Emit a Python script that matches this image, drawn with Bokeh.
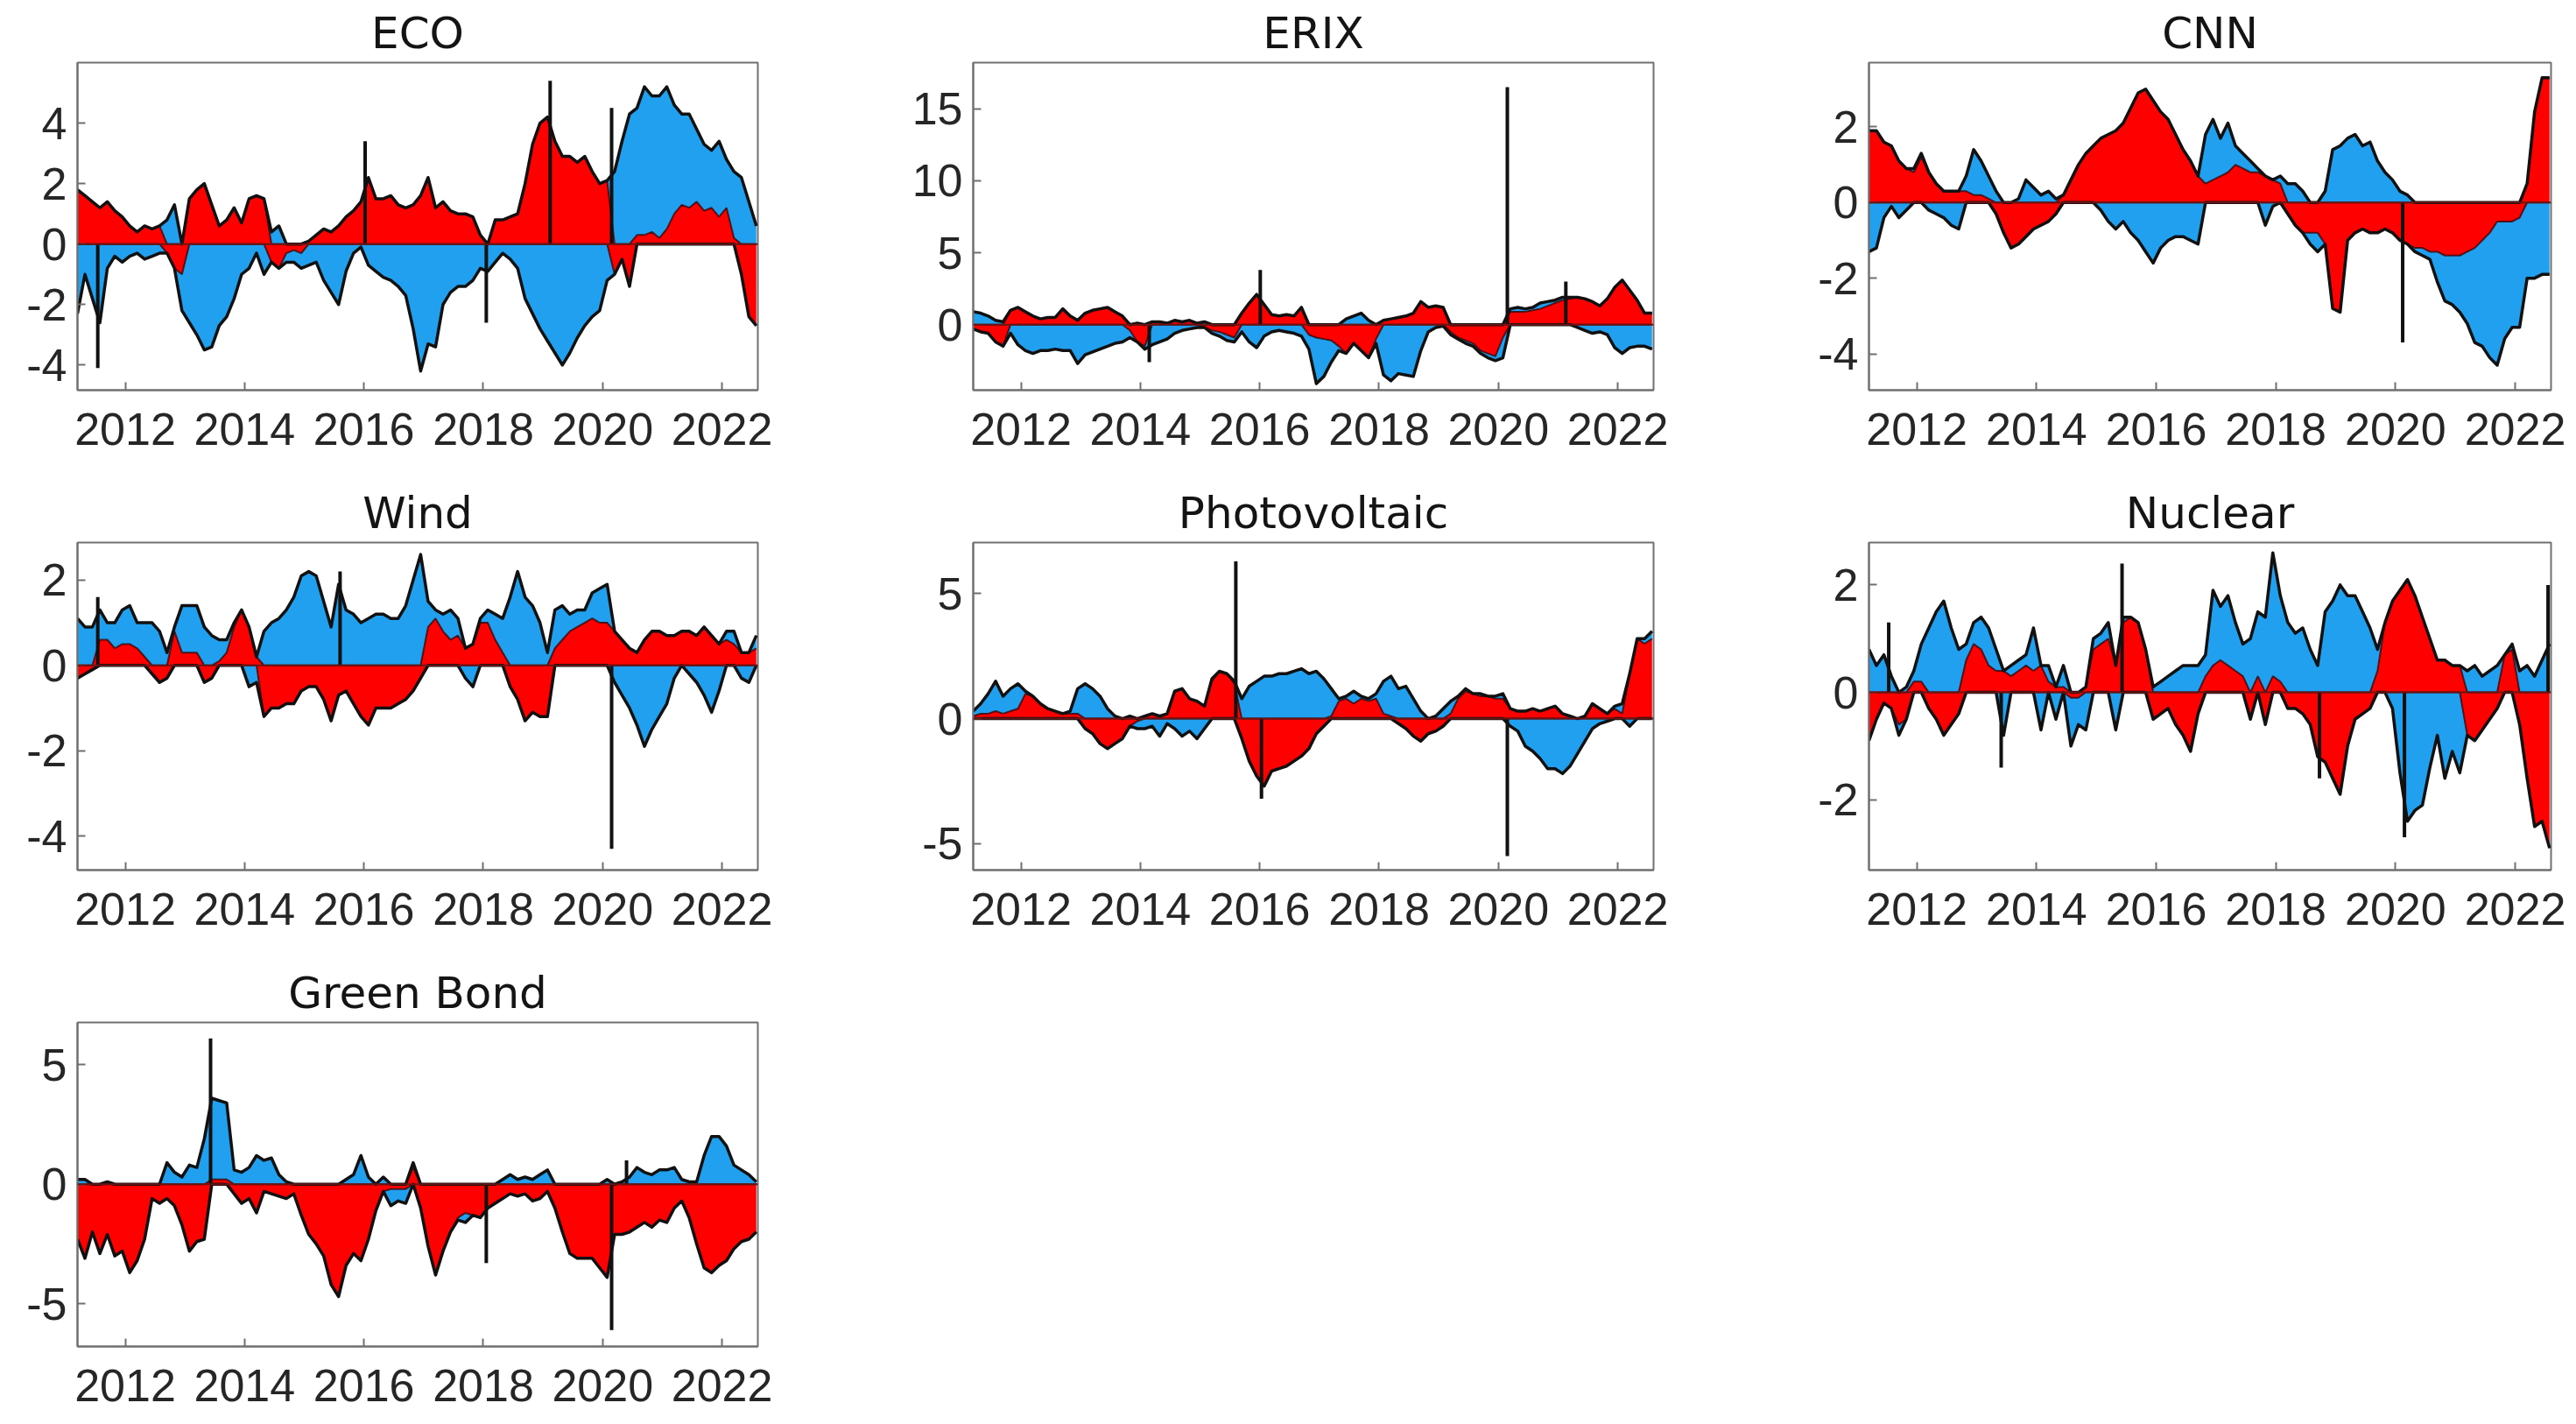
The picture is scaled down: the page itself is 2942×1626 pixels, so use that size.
import numpy as np
from bokeh.plotting import figure
from bokeh.models import Range1d, FixedTicker, PrintfTickFormatter, Span
from bokeh.layouts import column, row
from bokeh.embed import file_html
from bokeh.resources import INLINE

# ---------------- data ----------------
START = 2011.2
STEP = 0.125
N = 92
dates = START + STEP * np.arange(N)
x_ticks = [2012, 2014, 2016, 2018, 2020, 2022]

eco_red = [1.8, 1.6, 1.4, 1.2, 1.4, 1.1, 0.9, 0.6, 0.4, 0.6,
           0.5, 0.6, -0.3, -0.8, -1.0, 1.5, 1.8, 2.0, 1.3, 0.6,
           0.8, 1.2, 0.7, 1.5, 1.6, 1.5, -0.6, -0.8, -0.3, -0.2,
           -0.3, 0.1, 0.3, 0.5, 0.4, 0.6, 0.9, 1.1, 1.4, 2.2,
           1.5, 1.5, 1.6, 1.3, 1.2, 1.3, 1.6, 2.2, 1.2, 1.4,
           1.1, 1.0, 1.0, 0.9, 0.3, 0.0, 0.8, 0.8, 0.9, 1.0,
           2.0, 3.3, 4.0, 4.2, 3.4, 2.9, 2.9, 2.7, 2.9, 2.4,
           2.0, 2.1, -1.0, -0.5, -1.4, 0.3, 0.3, 0.4, 0.2, 0.5,
           1.0, 1.3, 1.2, 1.4, 1.1, 1.2, 0.9, 1.2, 0.2, -1.0,
           -2.4, -2.7]
eco_blue = [-2.3, -1.0, -1.8, -2.6, -0.8, -0.4, -0.6, -0.4, -0.3, -0.5,
            -0.4, -0.3, 0.8, 1.3, -1.2, -2.6, -3.0, -3.5, -3.4, -2.7,
            -2.4, -1.8, -1.0, -0.8, -0.3, -1.0, 0.4, 0.6, -0.3, -0.4,
            -0.5, -0.7, -0.6, -1.2, -1.6, -2.0, -0.9, -0.3, -0.1, -0.7,
            -0.9, -1.1, -1.2, -1.4, -1.7, -2.8, -4.2, -3.3, -3.4, -2.0,
            -1.6, -1.4, -1.4, -1.2, -0.8, -0.9, -0.6, -0.3, -0.5, -0.8,
            -1.8, -2.3, -2.8, -3.2, -3.6, -4.0, -3.6, -3.1, -2.7, -2.4,
            -2.2, -1.2, 2.4, 3.4, 4.3, 4.2, 4.9, 4.5, 4.7, 4.7,
            3.6, 3.0, 3.1, 2.4, 2.2, 1.9, 2.5, 1.6, 2.2, 2.2,
            1.4, 0.6]
eco_spike_x = [2011.54, 2016.02, 2018.05, 2019.12, 2020.15]
eco_spike_y = [-4.1, 3.4, -2.6, 5.4, 4.5]

erix_red = [-0.3, -0.5, -0.6, -1.2, -1.5, 1.0, 1.2, 0.9, 0.6, 0.4,
            0.5, 0.5, 1.1, 0.6, 0.3, 0.8, 1.0, 1.1, 1.2, 0.9,
            0.6, -0.4, -1.2, -1.5, 0.2, 0.2, 0.1, 0.3, 0.2, 0.3,
            0.1, -0.2, -0.4, -0.5, -0.7, -0.9, 0.8, 1.5, 2.1, 1.4,
            0.7, 0.6, 0.7, 0.6, 1.2, -0.7, -0.9, -1.0, -1.1, -1.5,
            -2.0, -1.3, -1.8, -2.3, -1.0, 0.3, 0.4, 0.5, 0.6, 0.8,
            1.6, 1.2, 1.3, 1.2, -0.5, -0.9, -1.1, -1.3, -1.8, -2.0,
            -2.2, -0.9, 0.9, 0.9, 0.9, 1.0, 1.1, 1.3, 1.5, 1.7,
            1.8, 1.9, 1.8, 1.6, 1.3, 1.8, 2.6, 3.1, 2.4, 1.7,
            0.8, 0.8]
erix_blue = [0.9, 0.8, 0.6, 0.3, 0.2, -0.6, -1.4, -1.8, -2.0, -1.8,
             -1.8, -1.7, -1.8, -1.8, -2.7, -2.1, -1.9, -1.7, -1.5, -1.3,
             -1.2, -0.5, 0.1, -0.2, -1.4, -1.2, -1.0, -0.6, -0.4, -0.3,
             -0.2, 0.2, -0.2, -0.3, -0.4, -0.3, -0.5, -1.2, -1.6, -0.8,
             -0.5, -0.4, -0.5, -0.6, -0.8, -1.0, -3.2, -2.6, -1.5, -0.3,
             0.4, 0.6, 0.8, 0.3, -0.3, -3.5, -3.9, -3.4, -3.5, -3.6,
             -1.8, -0.5, -0.2, -0.1, -0.2, -0.1, -0.2, -0.2, -0.2, -0.3,
             -0.3, -1.4, 0.2, 0.3, 0.2, 0.2, 0.4, 0.3, 0.2, 0.2,
             0.1, -0.2, -0.4, -0.6, -0.5, -0.7, -1.6, -2.0, -1.6, -1.5,
             -1.5, -1.7]
erix_spike_x = [2014.15, 2016.01, 2020.15, 2021.13]
erix_spike_y = [-2.6, 3.8, 16.5, 3.0]

cnn_red = [1.9, 1.9, 1.6, 1.5, 1.1, 0.9, 0.8, 1.2, 0.8, 0.5,
           0.3, 0.3, 0.3, 0.3, 0.2, 0.2, 0.1, -0.3, -0.8, -1.2,
           -1.1, -0.9, -0.7, -0.6, -0.5, -0.3, 0.2, 0.6, 1.0, 1.3,
           1.5, 1.7, 1.8, 1.9, 2.1, 2.5, 2.9, 3.0, 2.7, 2.4,
           2.2, 1.8, 1.4, 1.1, 0.7, 0.5, 0.6, 0.7, 0.8, 1.0,
           0.9, 0.8, 0.8, 0.7, 0.6, 0.5, -0.3, -0.6, -0.8, -0.8,
           -0.8, -1.1, -2.8, -2.9, -1.0, -0.8, -0.7, -0.8, -0.8, -0.7,
           -0.8, -1.0, -1.1, -1.2, -1.2, -1.3, -1.3, -1.4, -1.4, -1.4,
           -1.3, -1.2, -1.0, -0.8, -0.5, -0.5, -0.5, -0.4, 0.5, 2.4,
           3.3, 3.3]
cnn_blue = [-1.3, -1.2, -0.4, -0.1, -0.4, -0.2, 0.1, 0.1, -0.2, -0.3,
            -0.4, -0.6, -0.7, 0.4, 1.2, 0.9, 0.6, 0.3, 0.0, 0.0,
            0.1, 0.6, 0.4, 0.2, 0.3, 0.1, 0.0, 0.0, 0.0, 0.0,
            0.0, -0.2, -0.5, -0.7, -0.5, -0.8, -1.0, -1.3, -1.6, -1.2,
            -1.0, -0.9, -0.9, -1.0, -1.1, 1.3, 1.6, 1.0, 1.3, 0.5,
            0.4, 0.3, 0.1, -0.6, -0.1, 0.2, 0.5, 0.5, 0.3, -0.3,
            -0.5, 0.3, 1.4, 1.5, 1.7, 1.8, 1.5, 1.6, 1.1, 0.8,
            0.6, 0.3, 0.2, -0.1, -0.2, -0.2, -0.8, -1.2, -1.3, -1.5,
            -1.9, -2.5, -2.8, -3.3, -3.8, -3.1, -2.8, -2.9, -2.0, -2.0,
            -1.9, -1.9]
cnn_spike_x = [2020.12]
cnn_spike_y = [-3.7]

wind_red = [-0.3, -0.2, -0.1, 0.6, 0.6, 0.4, 0.5, 0.5, 0.4, 0.2,
            -0.2, -0.4, -0.3, 0.8, 0.3, 0.3, 0.3, -0.4, -0.3, 0.1,
            0.3, 0.9, 1.3, 0.9, 0.2, -1.2, -1.0, -1.0, -0.9, -0.9,
            -0.6, -0.5, -0.5, -0.8, -1.3, -0.7, -0.6, -0.9, -1.2, -1.4,
            -1.0, -1.0, -1.0, -0.9, -0.8, -0.6, -0.3, 0.9, 1.1, 0.8,
            0.6, 0.7, 0.4, 0.5, 1.0, 1.0, 0.6, 0.3, -0.5, -0.8,
            -1.3, -1.1, -1.2, -1.2, 0.4, 0.6, 0.8, 0.9, 1.0, 1.1,
            1.0, 1.0, 0.8, 0.6, 0.4, 0.3, 0.6, 0.8, 0.8, 0.7,
            0.7, 0.8, 0.8, 0.7, 0.9, 0.7, 0.5, 0.6, 0.5, 0.3,
            0.3, 0.4]
wind_blue = [1.1, 0.9, 0.9, 0.7, 0.4, 0.6, 0.8, 0.9, 0.6, 0.8,
             1.0, 0.8, 0.3, 0.1, 1.1, 1.1, 1.1, 0.9, 0.7, 0.5,
             0.3, 0.1, 0.0, -0.5, -0.4, 0.8, 1.0, 1.1, 1.3, 1.6,
             2.1, 2.2, 2.1, 1.5, 0.9, 1.9, 1.3, 1.2, 1.0, 1.1,
             1.2, 1.2, 1.1, 1.1, 1.4, 2.0, 2.6, 0.6, 0.2, 0.4,
             0.7, 0.4, -0.3, -0.5, 0.1, 0.3, 0.6, 0.8, 1.6, 2.2,
             1.6, 1.4, 1.0, 0.3, 0.9, 0.8, 0.4, 0.4, 0.3, 0.6,
             0.8, 0.9, -0.4, -0.7, -1.0, -1.4, -1.9, -1.5, -1.2, -0.9,
             -0.3, 0.0, -0.2, -0.4, -0.7, -1.1, -0.6, 0.2, 0.3, -0.3,
             -0.4, 0.3]
wind_spike_x = [2011.54, 2015.6, 2020.15]
wind_spike_y = [1.6, 2.2, -4.3]

pv_red = [0.1, 0.2, 0.2, 0.3, 0.2, 0.3, 0.4, 1.0, 0.9, 0.6,
          0.4, 0.3, 0.2, 0.2, 0.2, -0.4, -0.6, -1.0, -1.2, -1.0,
          -0.8, -0.3, -0.1, 0.1, 0.2, 0.1, 0.2, 1.1, 1.2, 0.8,
          0.7, 0.5, 1.5, 1.9, 1.8, 1.4, -0.8, -1.7, -2.3, -2.7,
          -2.1, -2.0, -1.9, -1.7, -1.5, -1.2, -0.6, -0.3, 0.1, 0.7,
          0.8, 0.6, 0.8, 0.7, 0.8, 0.2, 0.1, -0.2, -0.4, -0.7,
          -0.9, -0.6, -0.5, -0.3, 0.2, 0.8, 1.1, 1.0, 0.9, 0.9,
          0.8, 0.8, 0.4, 0.3, 0.3, 0.4, 0.3, 0.4, 0.5, 0.2,
          0.1, 0.0, 0.1, 0.6, 0.4, 0.2, 0.4, 0.2, 1.8, 3.2,
          3.0, 3.2]
pv_blue = [0.2, 0.4, 0.8, 1.2, 0.7, 0.9, 1.0, 0.1, 0.0, 0.0,
           0.0, 0.0, 0.0, 0.1, 1.0, 1.4, 1.2, 0.9, 0.4, 0.1,
           0.0, 0.1, -0.3, -0.4, -0.3, -0.7, -0.2, -0.4, -0.7, -0.5,
           -0.8, -0.4, 0.1, 0.0, 0.0, 0.1, 0.8, 1.3, 1.5, 1.7,
           1.7, 1.8, 1.8, 1.9, 2.0, 1.8, 1.9, 1.6, 1.1, 0.1,
           0.1, 0.5, 0.1, 0.1, 0.2, 1.3, 1.6, 1.2, 1.3, 0.8,
           0.3, 0.0, 0.1, 0.4, 0.5, 0.1, 0.1, 0.0, 0.1, 0.0,
           0.1, 0.2, -0.3, -0.5, -1.1, -1.3, -1.6, -2.0, -2.0, -2.2,
           -1.9, -1.4, -0.9, -0.4, -0.2, -0.1, 0.1, 0.4, -0.3, 0.0,
           0.2, 0.3]
pv_spike_x = [2015.6, 2016.03, 2020.15]
pv_spike_y = [6.3, -3.2, -5.5]

nuc_red = [-0.9, -0.5, -0.2, -0.3, -0.6, -0.5, 0.2, 0.2, -0.3, -0.5,
           -0.8, -0.6, -0.4, 0.6, 0.9, 0.8, 0.5, 0.4, 0.4, 0.3,
           0.4, 0.5, 0.4, 0.5, 0.2, 0.1, 0.1, -0.1, -0.1, 0.1,
           0.8, 0.9, 1.0, 0.5, 1.3, 1.4, 1.3, 0.8, -0.5, -0.4,
           -0.3, -0.6, -0.8, -1.1, -0.4, 0.3, 0.5, 0.6, 0.5, 0.4,
           0.3, -0.5, 0.3, -0.6, 0.3, 0.2, -0.3, -0.3, -0.4, -0.6,
           -1.2, -1.3, -1.6, -1.9, -1.0, -0.5, -0.4, -0.3, 0.4, 1.3,
           1.7, 1.9, 2.1, 1.8, 1.4, 1.0, 0.6, 0.6, 0.5, 0.5,
           -0.8, -0.9, -0.7, -0.5, -0.3, 0.7, 0.8, -0.6, -1.6, -2.5,
           -2.4, -2.9]
nuc_blue = [0.8, 0.5, 0.7, 0.3, -0.2, 0.1, 0.2, 0.7, 1.2, 1.5,
            1.7, 1.2, 0.8, 0.3, 0.4, 0.6, 0.7, 0.4, -0.8, 0.2,
            0.2, 0.2, 0.8, -0.7, 0.3, -0.5, 0.4, -0.9, -0.5, -0.7,
            0.2, 0.2, 0.3, -0.7, 0.1, 0.0, 0.0, 0.0, 0.1, 0.2,
            0.3, 0.4, 0.5, 0.5, 0.5, 0.4, 1.4, 1.0, 1.3, 0.9,
            0.6, 1.0, 1.2, 1.4, 2.3, 1.6, 1.3, 1.1, 1.2, 0.8,
            0.5, 1.5, 1.7, 2.0, 1.8, 1.8, 1.5, 1.2, 0.4, 0.0,
            -0.3, -1.5, -2.4, -2.2, -2.1, -1.4, -0.8, -1.6, -1.1, -1.5,
            0.4, 0.5, 0.3, 0.4, 0.5, 0.0, 0.1, 0.4, 0.5, 0.3,
            0.6, 0.9]
nuc_spike_x = [2011.53, 2013.41, 2015.43, 2018.73, 2020.15, 2022.55]
nuc_spike_y = [1.3, -1.4, 2.4, -1.6, -2.7, 2.0]

gb_red = [-2.3, -3.1, -2.0, -2.9, -2.1, -3.0, -2.8, -3.7, -3.2, -2.3,
          -0.6, -0.8, -0.6, -0.9, -1.7, -2.8, -2.4, -2.3, 0.2, 0.2,
          0.2, -0.4, -0.8, -0.6, -1.2, -0.3, -0.4, -0.5, -0.6, -0.4,
          -1.3, -2.1, -2.5, -3.0, -4.2, -4.7, -3.4, -2.9, -3.2, -2.3,
          -1.1, -0.3, -0.2, -0.2, -0.2, 0.7, -1.0, -2.6, -3.8, -2.8,
          -2.0, -1.4, -1.2, -1.3, -1.4, -1.0, -0.8, -0.6, -0.4, -0.5,
          -0.4, -0.7, -0.6, -0.3, -1.0, -2.0, -2.9, -3.1, -3.1, -3.1,
          -3.5, -3.9, -2.1, -2.1, -2.0, -1.8, -1.6, -1.8, -1.5, -1.6,
          -1.0, -0.7, -1.4, -2.5, -3.5, -3.7, -3.4, -3.2, -2.7, -2.4,
          -2.3, -2.0]
gb_blue = [0.2, 0.2, 0.0, 0.0, 0.1, 0.0, 0.0, 0.0, 0.0, 0.0,
           0.0, 0.0, 0.9, 0.5, 0.3, 0.8, 0.7, 1.9, 3.4, 3.3,
           3.2, 0.6, 0.5, 0.7, 1.2, 1.0, 1.1, 0.4, 0.1, 0.0,
           0.0, 0.0, 0.0, 0.0, 0.0, 0.0, 0.2, 0.4, 1.2, 0.3,
           0.0, 0.3, -0.7, -0.5, -0.6, 0.2, 0.0, 0.0, 0.0, 0.0,
           0.0, -0.1, -0.4, 0.0, 0.0, 0.0, 0.0, 0.2, 0.4, 0.2,
           0.3, 0.2, 0.4, 0.6, 0.0, 0.0, 0.0, 0.0, 0.0, 0.0,
           0.0, 0.2, 0.0, 0.1, 0.3, 0.7, 0.5, 0.4, 0.6, 0.6,
           0.7, 0.2, 0.1, 0.1, 1.2, 2.0, 2.0, 1.6, 0.8, 0.6,
           0.4, 0.1]
gb_spike_x = [2013.43, 2018.05, 2020.15, 2020.4]
gb_spike_y = [6.1, -3.3, -6.1, 1.0]

titles = ["ECO", "ERIX", "CNN", "Wind", "Photovoltaic", "Nuclear", "Green Bond"]
y_limits = [(-4.83, 6.0), (-4.55, 18.2), (-4.96, 3.7), (-4.8, 2.88),
            (-6.06, 7.05), (-3.31, 2.79), (-6.79, 6.77)]
y_ticks = [[-4, -2, 0, 2, 4], [0, 5, 10, 15], [-4, -2, 0, 2], [-4, -2, 0, 2],
           [-5, 0, 5], [-2, 0, 2], [-5, 0, 5]]

RED = "#FF0000"
BLUE = "#20A0EE"
AX = "#707070"


def panel(title, red, blue, sx, sy, ylim, yt, width, height, top, bottom, right):
    red = np.array(red, dtype=float)
    blue = np.array(blue, dtype=float)
    rp = np.clip(red, 0, None)
    rn = np.clip(red, None, 0)
    bp = np.clip(blue, 0, None)
    bn = np.clip(blue, None, 0)
    p = figure(width=width, height=height, output_backend="svg", toolbar_location=None,
               x_range=Range1d(2011.2, 2022.6), y_range=Range1d(*ylim),
               min_border_left=88, min_border_right=right,
               min_border_top=top, min_border_bottom=bottom)
    p.varea(x=dates, y1=0, y2=rp, fill_color=RED)
    p.varea(x=dates, y1=rp, y2=rp + bp, fill_color=BLUE)
    p.varea(x=dates, y1=0, y2=rn, fill_color=RED)
    p.varea(x=dates, y1=rn, y2=rn + bn, fill_color=BLUE)
    p.line(dates, rp, line_color="#3a0000", line_width=2, line_alpha=0.8)
    p.line(dates, rn, line_color="#3a0000", line_width=2, line_alpha=0.8)
    p.line(dates, rp + bp, line_color="#111111", line_width=3.5, line_join="round")
    p.line(dates, rn + bn, line_color="#111111", line_width=3.5, line_join="round")
    p.segment(x0=sx, y0=[0] * len(sx), x1=sx, y1=sy, line_color="#111111", line_width=4)
    p.add_layout(Span(location=0, dimension="width", line_color="#6b1414", line_width=2))

    p.title.text = title
    p.title.align = "center"
    p.title.text_font = "DejaVu Sans"
    p.title.text_font_size = "50px"
    p.title.text_font_style = "normal"
    p.title.text_color = "#141414"

    p.grid.visible = False
    p.outline_line_color = AX
    p.outline_line_width = 2
    p.outline_line_alpha = 1.0

    p.xaxis.ticker = FixedTicker(ticks=x_ticks)
    p.xaxis.formatter = PrintfTickFormatter(format="%d")
    p.yaxis.ticker = FixedTicker(ticks=yt)
    p.yaxis.formatter = PrintfTickFormatter(format="%d")
    for ax in (p.xaxis, p.yaxis):
        ax.major_tick_in = 9
        ax.major_tick_out = 0
        ax.minor_tick_line_color = None
        ax.axis_line_color = AX
        ax.axis_line_width = 2
        ax.major_tick_line_color = AX
        ax.major_tick_line_width = 2
        ax.major_label_text_font = "Liberation Sans"
        ax.major_label_text_font_size = "52px"
        ax.major_label_text_color = "#262626"
    p.xaxis.major_label_standoff = 26
    p.yaxis.major_label_standoff = 12
    return p


data = [(eco_red, eco_blue, eco_spike_x, eco_spike_y),
        (erix_red, erix_blue, erix_spike_x, erix_spike_y),
        (cnn_red, cnn_blue, cnn_spike_x, cnn_spike_y),
        (wind_red, wind_blue, wind_spike_x, wind_spike_y),
        (pv_red, pv_blue, pv_spike_x, pv_spike_y),
        (nuc_red, nuc_blue, nuc_spike_x, nuc_spike_y),
        (gb_red, gb_blue, gb_spike_x, gb_spike_y)]

figs = []
for k, (r, b, sx, sy) in enumerate(data):
    col = k % 3
    rw = k // 3
    if col < 2:
        w, right = 1023, 158
    else:
        w, right = 890, 23
    if rw < 2:
        h, top, bottom = 548, 71, 103
    else:
        h, top, bottom = 521, 71, 80
    figs.append(panel(titles[k], r, b, sx, sy, y_limits[k], y_ticks[k], w, h, top, bottom, right))

layout = column(row(figs[0], figs[1], figs[2]),
                row(figs[3], figs[4], figs[5]),
                row(figs[6]))

open("out.html", "w").write(file_html(layout, INLINE, title="Decomposition"))
